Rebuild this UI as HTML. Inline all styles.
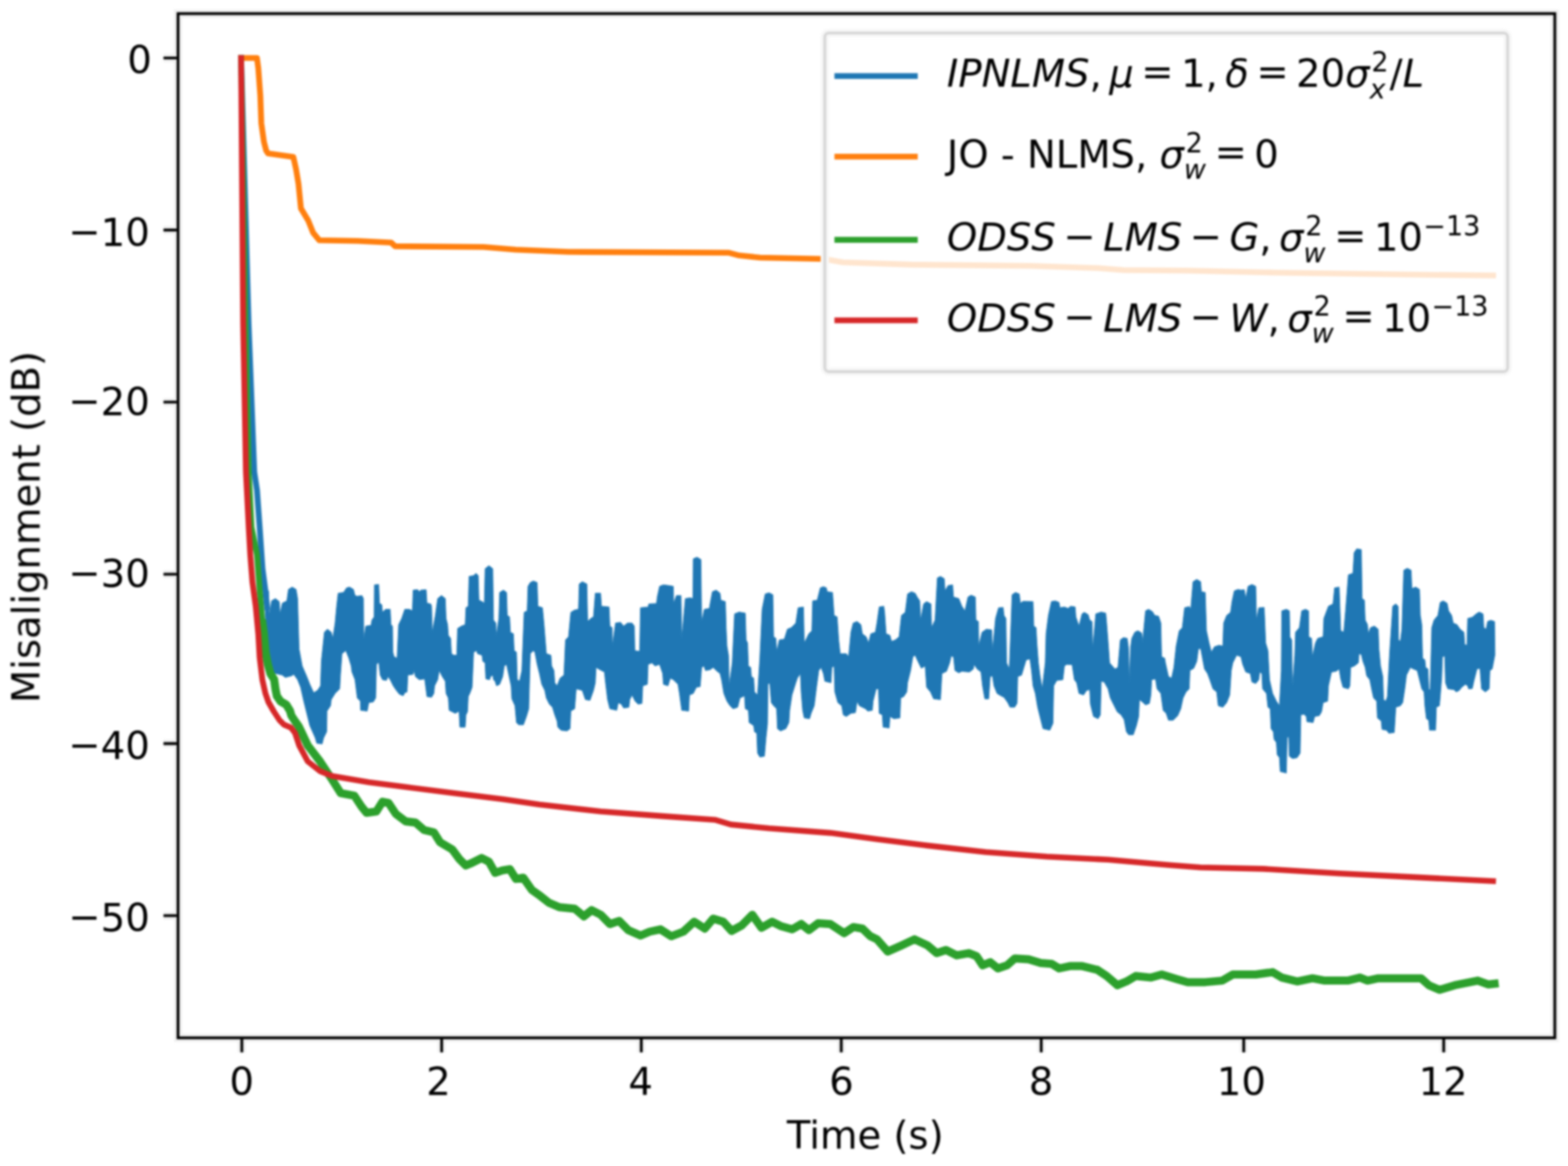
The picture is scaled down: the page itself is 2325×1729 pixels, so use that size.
<!DOCTYPE html>
<html lang="en"><head><meta charset="utf-8"><title>Misalignment (dB) vs Time (s)</title>
<style>html,body{margin:0;padding:0;background:#fff;}body{width:2325px;height:1729px;overflow:hidden;}svg{display:block;font-family:"DejaVu Sans","Liberation Sans",sans-serif;font-size:57.16px;fill:#000;}text{white-space:pre;}.i{font-style:italic;}.s{font-size:40.0px;}</style></head><body>
<svg xmlns="http://www.w3.org/2000/svg" width="2325" height="1729" viewBox="0 0 2325 1729">
<defs><filter id="soft" x="0" y="0" width="100%" height="100%" filterUnits="userSpaceOnUse" color-interpolation-filters="sRGB"><feGaussianBlur stdDeviation="1.60"/></filter></defs>
<rect width="2325" height="1729" fill="#fff"/>
<g filter="url(#soft)">
<g id="curves" fill="none" stroke-linejoin="round" stroke-linecap="square" stroke-width="8.60">
<polyline points="357.5,86.0 368.6,480.0 377.0,700.0 381.1,727.2 385.2,784.4 389.2,843.0 393.3,874.3 396.0,900.0" stroke="#1f77b4"/>
<polygon points="393.6,874.0 398.2,876.2 399.3,912.6 402.7,891.0 408.4,887.6 414.0,892.1 415.2,910.3 418.6,894.4 425.4,891.0 427.7,874.0 433.3,870.6 439.0,874.0 441.3,887.6 443.5,962.5 448.1,987.5 454.9,1003.3 459.4,1014.7 465.1,1027.2 470.8,1023.8 475.3,1017.0 476.5,980.6 481.0,937.5 485.5,933.0 491.2,937.5 493.5,946.6 496.9,923.9 499.2,898.9 501.4,879.7 509.4,878.5 513.9,871.7 518.4,870.6 524.1,874.0 526.4,883.1 529.8,884.2 536.6,883.1 538.9,887.6 539.3,948.9 542.3,928.4 550.2,927.3 551.4,919.4 554.8,914.8 555.2,867.2 561.6,866.7 562.7,894.4 566.1,896.7 567.2,908.0 571.8,903.5 578.6,903.5 579.7,926.2 582.0,928.4 582.5,967.0 584.3,973.8 588.8,976.1 591.1,926.2 595.6,917.1 600.2,903.5 607.0,903.5 611.5,905.8 612.6,875.1 619.4,874.4 621.7,877.4 624.0,875.1 631.9,874.4 633.1,894.4 638.7,895.5 639.9,898.9 641.0,937.5 645.5,912.6 649.0,887.6 654.6,883.1 660.3,887.6 661.4,917.1 663.7,926.2 664.8,942.1 668.2,946.6 669.4,969.3 672.8,971.6 677.3,971.6 678.5,931.9 684.1,928.4 689.8,926.2 690.9,901.2 694.3,898.9 695.5,854.7 702.3,853.5 705.7,850.1 709.1,853.5 710.2,889.9 714.8,892.1 718.2,894.4 719.3,843.3 725.0,838.8 730.7,843.3 731.8,919.4 735.2,923.9 735.7,944.3 739.7,917.1 740.9,878.5 746.5,875.1 751.1,878.5 752.2,912.6 755.6,914.8 756.8,937.5 761.3,939.8 762.4,964.8 765.8,967.0 767.0,1007.9 770.4,1010.2 773.8,994.3 777.2,908.0 781.7,905.8 782.9,869.4 786.3,863.8 790.8,861.5 796.5,863.8 797.6,898.9 804.4,901.2 806.7,926.2 810.1,969.3 816.9,971.6 818.0,987.5 821.4,994.3 822.6,1012.4 826.0,1017.0 830.5,1005.6 836.2,1001.1 838.5,948.9 843.0,944.3 846.4,908.0 852.1,904.6 857.8,903.5 858.9,866.0 863.4,862.6 870.2,866.0 871.4,921.6 875.9,917.1 880.0,914.8 882.7,879.7 890.6,879.7 891.8,898.9 903.1,900.1 904.3,928.4 907.7,930.7 908.1,958.0 912.7,923.9 920.1,922.8 924.7,928.4 930.4,923.9 937.2,923.9 940.6,928.4 941.3,964.8 948.5,965.9 949.7,901.2 961.0,900.1 962.1,895.5 973.5,894.9 974.6,885.3 978.0,869.4 983.7,867.2 991.6,868.3 998.4,869.4 998.9,894.4 1003.0,883.1 1009.8,883.1 1010.9,946.6 1016.2,887.6 1023.4,886.5 1027.5,887.6 1028.0,828.6 1033.6,826.3 1039.3,829.7 1040.4,922.8 1044.3,903.5 1051.8,902.3 1052.9,895.5 1056.3,877.4 1062.0,875.1 1067.7,879.7 1068.8,889.9 1075.6,892.1 1076.7,930.7 1077.9,958.0 1080.2,971.6 1081.3,1017.0 1085.8,982.9 1089.2,910.3 1096.0,907.6 1105.1,909.2 1106.3,948.9 1108.5,953.4 1109.7,987.5 1113.1,989.7 1114.2,1003.3 1117.6,1005.6 1118.7,1026.0 1123.3,1030.6 1126.7,976.1 1130.1,903.5 1134.6,880.8 1140.3,879.0 1146.0,881.9 1147.1,944.3 1150.5,946.6 1151.6,967.0 1155.5,948.9 1163.0,947.7 1167.5,933.0 1173.2,930.7 1180.0,923.9 1183.4,901.2 1191.4,900.1 1192.5,953.4 1199.3,939.8 1203.8,935.3 1205.0,891.0 1211.8,889.9 1216.3,871.7 1220.9,869.9 1225.4,871.7 1226.5,877.4 1234.5,878.5 1236.8,912.6 1241.3,914.8 1243.6,948.9 1245.8,969.3 1254.9,969.3 1258.3,973.8 1261.7,937.5 1265.1,923.9 1270.8,921.6 1276.5,926.2 1278.7,939.8 1284.4,944.3 1287.8,953.4 1291.2,939.8 1298.0,937.5 1300.3,923.9 1303.7,900.1 1310.5,898.9 1311.7,908.0 1313.9,939.8 1319.6,942.1 1321.9,951.1 1327.5,948.9 1333.2,944.3 1336.6,912.6 1342.3,908.0 1345.7,880.8 1351.4,877.4 1357.0,879.7 1360.0,885.3 1363.8,891.0 1365.0,919.4 1369.5,895.5 1374.0,892.1 1380.4,895.5 1381.3,930.7 1386.5,919.4 1389.9,857.0 1394.5,854.7 1400.1,858.1 1401.3,876.2 1405.8,868.3 1412.6,867.2 1413.8,885.3 1421.7,887.6 1426.2,898.9 1430.8,905.8 1435.3,885.3 1439.9,882.6 1446.2,885.3 1447.1,919.4 1450.8,921.6 1451.2,958.0 1456.2,937.5 1462.6,933.0 1470.5,934.1 1471.6,967.0 1476.2,917.1 1480.7,901.2 1487.5,900.8 1488.7,912.6 1491.6,917.1 1492.5,982.9 1496.6,992.0 1500.7,881.9 1505.7,878.5 1511.4,880.8 1512.9,894.4 1517.0,891.7 1531.8,892.1 1532.9,928.4 1536.3,930.7 1537.5,953.4 1539.7,982.9 1542.0,1001.1 1545.4,1021.5 1549.9,982.9 1551.1,939.8 1554.5,912.6 1559.0,892.1 1564.7,891.0 1570.4,893.3 1571.5,901.2 1578.3,900.1 1584.0,902.3 1587.4,898.9 1594.2,900.1 1595.3,914.8 1599.9,928.4 1604.4,910.3 1607.8,908.0 1613.5,911.4 1615.8,919.4 1619.2,921.6 1620.3,962.5 1624.8,910.3 1632.8,907.6 1639.6,909.2 1640.7,921.6 1643.0,951.1 1645.3,982.9 1653.2,992.0 1657.7,989.7 1661.2,948.9 1665.7,945.5 1671.4,946.6 1673.2,960.2 1674.8,1014.7 1676.4,960.2 1678.2,946.6 1682.7,937.5 1687.3,935.3 1692.9,938.7 1694.1,953.4 1698.6,905.8 1703.1,903.5 1708.8,906.9 1712.2,912.6 1717.9,913.7 1721.3,923.9 1722.4,973.8 1727.0,976.1 1728.1,982.9 1732.6,1003.3 1737.2,1005.6 1740.6,989.7 1744.0,958.0 1748.5,935.3 1753.1,930.7 1756.5,901.2 1763.3,899.4 1765.6,903.5 1769.0,862.6 1774.6,859.2 1780.3,862.6 1781.4,877.4 1787.1,878.5 1788.9,935.3 1792.8,953.4 1796.2,967.0 1800.7,959.1 1807.5,956.8 1813.2,958.0 1814.4,923.9 1818.9,912.6 1824.6,908.0 1826.8,892.1 1830.2,876.2 1835.9,874.0 1840.0,875.1 1845.0,874.4 1847.2,887.6 1850.6,869.4 1856.3,866.7 1862.0,869.4 1863.1,919.4 1866.5,901.2 1874.5,900.8 1875.6,926.2 1876.7,953.4 1880.1,964.8 1882.4,1007.9 1887.0,1028.3 1892.6,1039.7 1897.2,1046.5 1899.9,994.3 1900.6,905.8 1907.4,903.5 1911.9,905.8 1912.6,944.3 1915.3,948.9 1916.5,1021.5 1919.9,971.6 1921.0,937.5 1926.7,930.7 1930.1,905.8 1935.8,903.5 1940.3,905.8 1940.7,944.3 1944.8,946.6 1946.0,973.8 1950.5,953.4 1953.9,946.6 1961.9,944.3 1963.0,917.1 1969.8,898.9 1976.6,895.5 1978.9,871.7 1985.7,870.6 1988.0,935.3 1992.5,937.5 1995.2,905.8 1999.3,852.4 2006.1,850.1 2007.9,819.5 2011.8,813.8 2018.6,815.0 2019.7,887.6 2023.1,889.9 2024.3,919.4 2027.7,926.2 2028.8,939.8 2032.2,930.7 2037.9,928.4 2043.6,933.0 2044.7,962.5 2047.0,987.5 2050.4,1003.3 2051.5,1037.4 2054.9,1039.7 2057.2,1032.9 2060.6,967.0 2065.1,898.9 2069.7,895.5 2073.1,898.9 2073.7,948.9 2076.5,951.1 2078.7,933.0 2081.5,845.6 2086.7,842.7 2092.4,845.6 2093.5,872.8 2099.2,870.6 2104.8,874.0 2106.0,912.6 2108.2,926.2 2109.4,976.1 2112.8,978.4 2113.9,989.7 2117.3,992.0 2118.5,1021.5 2120.7,1023.8 2123.0,930.7 2126.4,919.4 2132.1,912.6 2135.5,893.3 2140.0,891.0 2145.7,894.4 2148.0,905.8 2152.5,912.6 2154.8,923.9 2160.4,926.2 2165.0,933.0 2170.7,937.5 2171.8,955.7 2175.2,956.8 2176.3,917.1 2183.1,915.3 2188.8,910.3 2193.4,907.6 2199.0,910.3 2200.2,930.7 2203.6,933.0 2205.8,921.6 2210.4,919.8 2216.1,921.6 2216.7,971.6 2216.5,971.6 2212.6,992.0 2209.2,994.3 2208.1,1021.5 2202.4,1026.0 2196.8,1021.5 2194.5,990.9 2190.0,992.0 2185.4,1010.2 2183.1,1021.0 2177.5,1021.5 2176.3,1017.0 2172.9,1014.7 2167.3,1019.2 2163.8,1023.8 2159.3,1026.0 2155.9,1022.6 2146.8,1021.5 2143.4,1012.4 2142.3,972.7 2138.9,973.8 2137.7,1005.6 2135.5,1032.9 2134.3,1046.5 2129.8,1048.7 2128.7,1082.8 2119.6,1082.8 2118.5,1068.0 2115.1,1065.8 2112.8,1046.5 2111.6,1026.0 2108.2,1021.5 2104.8,1007.9 2101.4,994.3 2095.8,992.0 2091.2,989.7 2085.5,1001.1 2083.3,1019.2 2079.9,1041.9 2076.5,1046.5 2069.7,1048.7 2067.4,1086.2 2059.4,1087.3 2056.0,1082.8 2049.2,1081.6 2048.1,1069.2 2042.4,1064.6 2041.3,1039.7 2036.7,1035.1 2033.3,1019.2 2031.1,1007.9 2026.5,1002.2 2024.3,989.7 2020.9,980.6 2018.6,970.4 2015.2,969.3 2014.1,982.9 2008.4,987.5 2002.7,989.7 2001.6,1017.0 1999.3,1021.5 1991.4,1019.2 1988.0,1006.7 1985.7,992.0 1981.1,995.4 1974.3,996.5 1969.8,1017.0 1968.7,1039.7 1961.9,1041.9 1959.6,1055.5 1956.2,1061.2 1949.4,1062.4 1947.1,1071.4 1938.0,1070.3 1936.9,1062.4 1933.5,1059.0 1928.9,1060.1 1927.8,1116.8 1923.3,1123.6 1916.5,1124.8 1911.9,1121.4 1910.8,1091.9 1908.5,1094.1 1907.4,1146.3 1898.3,1144.1 1897.2,1123.6 1893.8,1119.1 1892.6,1100.9 1889.2,1096.4 1888.1,1085.1 1884.7,1080.5 1883.5,1051.0 1880.1,1048.7 1877.9,1028.3 1872.2,1021.5 1871.1,998.8 1867.7,996.5 1866.5,1007.9 1862.0,1013.6 1856.3,1011.3 1854.0,998.8 1847.2,996.5 1842.7,985.2 1840.0,973.8 1833.6,971.6 1828.0,982.9 1825.7,994.3 1823.4,1030.6 1818.9,1041.9 1813.2,1048.7 1806.4,1046.5 1804.1,1026.0 1798.5,1021.5 1793.9,1007.9 1790.5,998.8 1786.0,992.0 1782.6,973.8 1780.3,961.4 1776.9,962.5 1774.6,980.6 1770.1,990.9 1764.4,994.3 1763.3,1021.5 1758.7,1026.0 1754.2,1035.1 1750.8,1051.0 1746.3,1061.2 1739.5,1068.0 1732.6,1068.0 1729.2,1057.8 1724.7,1053.3 1721.3,1028.3 1715.6,1021.5 1713.4,1006.7 1707.7,1007.9 1706.5,1030.6 1704.3,1043.1 1698.6,1045.3 1695.2,1041.9 1689.5,1037.4 1688.4,1062.4 1685.0,1076.0 1680.4,1089.6 1673.6,1089.6 1670.2,1085.1 1666.8,1066.9 1662.3,1060.1 1656.6,1055.5 1652.1,1046.5 1646.4,1035.1 1643.0,1021.5 1637.3,1011.3 1632.8,1010.2 1631.6,1060.1 1628.2,1065.8 1621.4,1062.4 1616.9,1044.2 1615.8,1022.6 1611.2,1023.8 1606.7,1030.6 1599.9,1028.3 1596.5,1012.4 1593.1,1007.9 1589.7,985.6 1581.7,985.2 1578.3,987.5 1576.0,1007.9 1567.0,1009.0 1562.4,1017.0 1561.3,1072.6 1556.7,1082.8 1546.5,1080.5 1542.0,1062.4 1538.6,1048.7 1535.2,1028.3 1531.8,1017.0 1529.5,994.3 1527.2,977.2 1521.6,978.4 1518.2,989.7 1514.8,1001.1 1509.1,1003.3 1508.0,1043.1 1504.5,1048.7 1497.7,1048.7 1494.3,1041.9 1488.7,1034.0 1484.1,1031.7 1478.4,1028.3 1473.9,1017.0 1471.6,1002.2 1468.2,1003.3 1466.0,1036.3 1460.3,1036.3 1456.9,1017.0 1454.6,996.5 1448.9,992.0 1444.4,985.2 1443.3,992.0 1437.6,996.5 1426.2,995.4 1421.7,997.7 1416.0,994.3 1413.8,973.8 1410.4,972.7 1408.1,982.9 1403.5,995.4 1396.7,998.8 1394.5,1037.4 1384.3,1036.3 1379.7,1026.0 1374.0,1019.2 1371.8,987.5 1366.1,990.9 1360.0,978.4 1357.0,971.6 1353.6,973.8 1350.2,994.3 1345.7,1012.4 1344.6,1026.0 1340.0,1032.9 1335.5,1035.1 1334.4,1064.6 1325.3,1065.8 1319.6,1062.4 1318.5,1079.4 1309.4,1078.2 1308.3,1060.1 1303.7,1057.8 1302.6,1021.5 1299.2,1021.5 1294.6,1039.7 1293.5,1053.3 1286.7,1054.4 1283.3,1051.0 1274.2,1046.5 1270.8,1039.7 1268.5,1056.7 1261.7,1057.8 1254.9,1062.4 1250.4,1060.1 1248.1,1046.5 1242.4,1041.9 1237.9,1026.0 1236.8,987.5 1233.4,989.7 1232.2,1012.4 1223.1,1010.2 1220.9,998.8 1217.5,989.7 1214.1,994.3 1210.7,1019.2 1207.3,1046.5 1202.7,1057.8 1200.4,1065.8 1192.5,1064.6 1190.2,1053.3 1188.0,1026.0 1186.8,998.8 1182.3,1005.6 1180.0,1012.4 1174.3,1030.6 1170.9,1053.3 1169.8,1071.4 1165.3,1080.5 1157.3,1083.9 1152.8,1080.5 1151.6,1051.0 1147.1,1046.5 1143.7,1041.9 1141.4,1012.4 1138.7,1014.7 1138.0,1073.7 1135.8,1094.1 1133.5,1121.4 1126.7,1122.5 1123.3,1116.8 1122.1,1087.3 1118.7,1085.1 1117.6,1076.0 1110.8,1071.4 1109.7,1053.3 1105.1,1051.0 1104.0,1031.7 1097.2,1035.1 1093.8,1048.7 1087.0,1051.0 1082.4,1046.5 1077.9,1039.7 1073.3,1028.3 1069.9,1007.9 1067.7,998.8 1062.0,994.3 1057.5,989.7 1052.9,993.1 1046.1,994.3 1043.8,987.5 1040.4,989.7 1038.2,1018.1 1032.5,1019.2 1028.0,1028.3 1022.3,1030.6 1021.1,1054.4 1010.9,1053.3 1007.5,1028.3 1005.3,1014.7 998.4,1007.9 993.9,1005.6 990.5,1017.0 983.7,1014.7 982.6,998.8 978.0,985.2 971.2,987.5 966.7,982.9 961.0,985.2 959.9,1014.7 953.1,1017.0 951.9,1043.1 946.2,1044.2 941.7,1039.7 937.2,1030.6 933.8,1037.4 932.6,1048.7 924.7,1049.9 921.3,1044.2 916.7,1041.9 914.5,1053.3 904.3,1051.0 900.9,1037.4 897.4,1007.9 896.3,996.5 891.8,994.3 883.8,989.7 882.7,1012.4 880.0,1023.8 874.8,1038.5 868.0,1037.4 863.4,1023.8 858.9,1022.6 854.4,1021.5 852.1,1051.0 846.4,1054.4 845.3,1080.5 840.7,1083.9 831.7,1082.8 827.1,1078.2 826.0,1069.2 822.6,1060.1 819.2,1048.7 814.6,1044.2 810.1,1035.1 807.8,1023.8 803.3,1014.7 799.9,998.8 796.5,985.2 793.1,967.0 790.8,964.8 786.3,969.3 784.0,1051.0 780.6,1062.4 776.1,1074.8 769.2,1074.8 765.8,1071.4 763.6,1046.5 759.0,1036.3 757.9,1017.0 754.5,1001.1 751.1,985.2 747.7,987.5 745.4,1003.3 740.9,1014.7 736.3,1017.0 734.1,1010.2 731.8,1007.9 730.7,1001.1 727.3,1003.3 726.1,1007.9 720.4,1006.7 719.3,982.9 715.9,980.6 714.8,971.6 708.0,969.3 706.8,964.8 702.3,967.0 700.0,1019.2 696.6,1028.3 694.3,1032.9 693.2,1055.5 690.9,1060.1 689.8,1078.2 681.9,1078.2 680.7,1054.4 675.1,1057.8 670.5,1055.5 666.0,1053.3 664.8,1035.1 661.4,1028.3 660.3,1010.2 655.8,1003.3 651.2,994.3 649.0,1007.9 644.4,1017.0 643.3,1028.3 639.9,1034.0 633.1,1032.9 629.7,1006.7 621.7,1007.9 616.0,1003.3 613.8,993.1 612.6,999.9 604.7,1001.1 603.6,1026.0 600.2,1027.2 597.9,1031.7 592.2,1029.4 587.7,1023.8 583.1,1017.0 578.6,1007.9 575.2,1003.3 572.9,1009.0 567.2,1007.9 563.8,1001.1 561.6,981.8 558.2,985.2 557.0,1035.1 553.6,1040.8 546.8,1041.9 544.5,1054.4 534.8,1053.3 534.3,1039.7 529.8,1035.1 526.4,1007.9 521.9,996.5 520.7,987.5 517.3,976.1 512.8,964.8 507.1,969.3 504.8,1001.1 503.7,1021.5 496.9,1028.3 491.2,1037.4 490.1,1046.5 484.9,1054.4 484.4,1085.1 479.9,1094.1 477.6,1103.2 469.7,1102.1 467.4,1094.1 459.4,1076.0 454.9,1057.8 450.4,1039.7 445.8,1019.2 441.3,1007.9 435.6,999.9 432.2,1002.2 423.1,1004.5 418.6,1001.1 405.0,997.7 400.0,985.0 395.9,950.0 392.9,900.1" fill="#1f77b4" stroke="#1f77b4" stroke-width="1"/>
<polyline points="357.5,86.0 381.0,86.0 383.0,101.0 386.0,142.0 387.5,183.0 391.3,210.0 394.7,223.4 397.5,227.5 435.0,232.8 439.0,251.0 442.6,272.6 446.2,309.0 457.0,327.0 464.4,345.3 473.4,356.2 530.0,357.3 580.0,359.8 586.0,365.2 717.0,366.2 765.0,370.3 843.0,373.5 1080.0,374.7 1096.0,378.8 1127.0,382.0 1222.0,384.0 1250.0,389.0 1351.0,392.4 1528.0,394.2 1628.0,397.5 1666.0,400.5 1760.0,401.2 1891.0,404.2 2118.0,407.5 2214.0,408.5" stroke="#ff7f0e"/>
<polyline points="357.5,86.0 364.0,480.0 368.8,700.0 372.9,781.7 381.1,822.6 385.2,877.0 389.2,924.7" stroke="#2ca02c"/>
<polyline points="389.2,924.7 391.3,940.0 393.6,967.0 397.2,985.4 401.0,999.0 406.5,1007.5 408.5,1022.0 410.5,1032.0 416.0,1040.0 424.5,1045.0 430.0,1054.0 432.0,1061.0 436.5,1068.0 442.6,1076.5 447.0,1085.5 456.3,1105.4 474.5,1129.0 492.6,1156.2 505.3,1176.2 525.3,1179.8 536.2,1196.2 543.5,1205.3 558.0,1203.4 567.1,1188.9 576.2,1190.7 587.0,1207.0 601.6,1218.0 616.1,1219.8 628.8,1230.7 643.3,1234.3 652.4,1248.8 670.6,1259.7 681.5,1274.3 690.5,1283.3 699.6,1279.7 714.1,1272.4 725.0,1277.9 734.1,1294.2 745.0,1290.6 755.9,1288.8 765.0,1303.3 775.9,1301.5 788.6,1319.6 801.3,1328.7 813.6,1338.4 829.5,1345.2 852.2,1347.5 865.8,1358.8 877.2,1349.7 890.8,1356.5 904.4,1370.2 918.0,1365.6 931.6,1379.2 949.8,1387.2 963.4,1381.5 979.3,1378.1 995.2,1388.3 1013.3,1381.5 1029.2,1366.8 1045.1,1377.0 1057.6,1362.2 1072.4,1366.8 1084.8,1380.4 1099.6,1372.4 1115.5,1356.5 1129.1,1375.8 1145.0,1366.8 1158.6,1373.6 1174.5,1378.1 1188.1,1370.2 1199.5,1379.2 1213.1,1369.0 1231.2,1370.2 1251.7,1383.8 1265.3,1374.7 1278.9,1377.0 1290.2,1388.0 1300.4,1392.9 1316.3,1411.0 1336.7,1401.9 1356.0,1392.9 1375.3,1401.9 1389.0,1413.3 1402.6,1408.7 1418.5,1416.7 1436.6,1413.3 1448.0,1417.8 1457.0,1431.4 1468.4,1426.9 1479.7,1436.0 1493.3,1431.4 1504.7,1421.2 1525.1,1422.4 1543.3,1428.0 1559.2,1429.2 1570.5,1436.0 1586.4,1432.6 1604.6,1432.6 1627.3,1438.2 1640.9,1447.3 1656.8,1460.9 1670.4,1455.3 1684.0,1447.3 1706.7,1449.6 1722.6,1445.1 1745.3,1451.9 1761.2,1456.4 1787.2,1456.4 1812.2,1454.1 1828.1,1445.0 1862.1,1445.0 1887.1,1441.6 1900.7,1449.6 1923.4,1455.3 1946.1,1450.7 1964.3,1454.1 1998.3,1454.1 2016.5,1449.6 2027.8,1454.1 2043.7,1450.7 2107.3,1450.7 2118.6,1460.9 2134.5,1467.7 2157.2,1460.9 2191.2,1454.1 2207.1,1459.8 2216.2,1458.7" stroke="#2ca02c" stroke-width="12"/>
<polyline points="357.5,86.0 360.6,480.0 364.7,700.0 368.8,781.7 371.1,822.6 374.3,863.4 379.3,900.0 383.0,940.0 385.0,975.0 389.0,1008.0 393.5,1028.0 398.0,1041.0 406.0,1055.0 414.5,1068.0 421.0,1074.5 431.5,1079.0 437.5,1087.0 443.6,1105.4 456.3,1129.0 474.5,1143.5 492.6,1150.8 547.1,1159.9 601.6,1167.1 674.2,1176.2 746.8,1185.3 800.0,1193.1 890.8,1203.3 981.6,1210.1 1061.0,1215.8 1083.7,1222.6 1140.4,1228.3 1231.2,1235.1 1299.3,1244.2 1370.8,1253.3 1461.6,1263.5 1552.4,1270.3 1643.1,1274.8 1733.9,1282.8 1780.0,1286.2 1873.5,1288.4 1987.0,1295.3 2100.4,1300.9 2213.9,1306.6" stroke="#d62728"/>
</g>
<g id="legend">
<rect x="1223.0" y="49.0" width="1012.5" height="502.1" rx="6" ry="6" fill="#fff" fill-opacity="0.8" stroke="#f7f7f7" stroke-width="12.35"/>
<rect x="1223.0" y="49.0" width="1012.5" height="502.1" rx="6" ry="6" fill="none" stroke="#d6d6d6" stroke-width="4.12"/>
<path d="M1237.3 112.8 H1360.8" stroke="#1f77b4" stroke-width="8.6" fill="none"/>
<path d="M1237.3 232.2 H1360.8" stroke="#ff7f0e" stroke-width="8.6" fill="none"/>
<path d="M1237.3 355.6 H1360.8" stroke="#2ca02c" stroke-width="8.6" fill="none"/>
<path d="M1237.3 475.0 H1360.8" stroke="#d62728" stroke-width="8.6" fill="none"/>
<text><tspan class="i" x="1404.1 1421.0 1455.4 1498.1 1529.9 1579.2" y="129.3">IPNLMS</tspan><tspan x="1615.5 1633.6" y="129.3">, </tspan><tspan class="i" x="1644.7" y="129.3">μ</tspan><tspan x="1686.2 1692.2 1740.1" y="125.8"> = </tspan><tspan x="1751.2 1787.5 1805.7" y="129.3">1, </tspan><tspan class="i" x="1816.8" y="129.3">δ</tspan><tspan x="1856.9 1862.9 1910.7" y="125.8"> = </tspan><tspan x="1921.8 1958.2" y="129.3">20</tspan><tspan class="i" x="1994.5" y="129.3">σ</tspan><tspan class="s" x="2033.4" y="106.2">2</tspan><tspan class="i s" x="2030.7" y="145.7">x</tspan><tspan x="2060.5" y="129.3">/</tspan><tspan class="i" x="2079.7" y="129.3">L</tspan></text>
<text><tspan x="1404.1 1421.0 1465.9 1484.1 1504.7 1522.8 1565.6 1597.4 1646.6 1682.9 1701.0" y="248.6">JO - NLMS, </tspan><tspan class="i" x="1719.2" y="248.6">σ</tspan><tspan class="s" x="1758.1" y="225.6">2</tspan><tspan class="i s" x="1755.4" y="265.1">w</tspan><tspan x="1794.9 1800.9 1848.7" y="245.1"> = </tspan><tspan x="1859.8" y="248.6">0</tspan></text>
<text><tspan class="i" x="1404.1 1449.1 1493.1 1529.3" y="372.1">ODSS</tspan><tspan x="1570.7 1576.7 1624.5" y="370.1"> − </tspan><tspan class="i" x="1635.7 1667.5 1716.7" y="372.1">LMS</tspan><tspan x="1758.1 1764.1 1812.0" y="370.1"> − </tspan><tspan class="i" x="1823.1" y="372.1">G</tspan><tspan x="1867.3 1885.5" y="372.1">, </tspan><tspan class="i" x="1896.6" y="372.1">σ</tspan><tspan class="s" x="1935.5" y="349.1">2</tspan><tspan class="i s" x="1932.8" y="388.6">w</tspan><tspan x="1972.3 1978.3 2026.1" y="368.6"> = </tspan><tspan x="2037.3 2073.6" y="372.1">10</tspan><tspan class="s" x="2110.5 2144.0 2169.4" y="349.1">−13</tspan></text>
<text><tspan class="i" x="1404.1 1449.1 1493.1 1529.3" y="491.5">ODSS</tspan><tspan x="1570.7 1576.7 1624.5" y="489.4"> − </tspan><tspan class="i" x="1635.7 1667.5 1716.7" y="491.5">LMS</tspan><tspan x="1758.1 1764.1 1812.0" y="489.4"> − </tspan><tspan class="i" x="1823.1" y="491.5">W</tspan><tspan x="1879.6 1897.7" y="491.5">, </tspan><tspan class="i" x="1908.8" y="491.5">σ</tspan><tspan class="s" x="1947.7" y="468.4">2</tspan><tspan class="i s" x="1945.0" y="507.9">w</tspan><tspan x="1984.5 1990.5 2038.3" y="488.0"> = </tspan><tspan x="2049.5 2085.8" y="491.5">10</tspan><tspan class="s" x="2122.7 2156.2 2181.6" y="468.4">−13</tspan></text>
</g>
<g fill="none" stroke="#f1f1f1" stroke-width="12.26"><rect x="264.00" y="20.20" width="2041.45" height="1518.75"/><path d="M358.6 1541.0 v19.5 M654.9 1541.0 v19.5 M950.9 1541.0 v19.5 M1247.4 1541.0 v19.5 M1543.9 1541.0 v19.5 M1844.2 1541.0 v19.5 M2140.7 1541.0 v19.5 M261.9 86.0 h-19.5 M261.9 341.1 h-19.5 M261.9 596.3 h-19.5 M261.9 851.5 h-19.5 M261.9 1102.6 h-19.5 M261.9 1357.8 h-19.5"/></g>
<rect x="264.00" y="20.20" width="2041.45" height="1518.75" fill="none" stroke="#000" stroke-width="4.12"/>
<path d="M358.6 1541.0 v19.5 M654.9 1541.0 v19.5 M950.9 1541.0 v19.5 M1247.4 1541.0 v19.5 M1543.9 1541.0 v19.5 M1844.2 1541.0 v19.5 M2140.7 1541.0 v19.5 M261.9 86.0 h-19.5 M261.9 341.1 h-19.5 M261.9 596.3 h-19.5 M261.9 851.5 h-19.5 M261.9 1102.6 h-19.5 M261.9 1357.8 h-19.5" stroke="#000" stroke-width="4.12" fill="none"/>
<g text-anchor="middle">
<text x="358.4" y="1623.6">0</text>
<text x="650.2" y="1623.6">2</text>
<text x="950.0" y="1623.6">4</text>
<text x="1247.6" y="1623.6">6</text>
<text x="1543.8" y="1623.6">8</text>
<text x="1840.7" y="1623.6">10</text>
<text x="2139.8" y="1623.6">12</text>
</g><g text-anchor="end">
<text x="225.0" y="108.6">0</text>
<text x="222.0" y="364.5"><tspan dy="-1.8">−</tspan><tspan dy="1.8">10</tspan></text>
<text x="222.0" y="615.8"><tspan dy="-1.8">−</tspan><tspan dy="1.8">20</tspan></text>
<text x="222.0" y="870.7"><tspan dy="-1.8">−</tspan><tspan dy="1.8">30</tspan></text>
<text x="222.0" y="1125.6"><tspan dy="-1.8">−</tspan><tspan dy="1.8">40</tspan></text>
<text x="222.0" y="1380.8"><tspan dy="-1.8">−</tspan><tspan dy="1.8">50</tspan></text>
</g>
<text class="ax" x="1283.0" y="1703.4" text-anchor="middle">Time (s)</text>
<text class="ax" transform="translate(58.6,781.5) rotate(-90)" text-anchor="middle">Misalignment (dB)</text>
</g>
</svg></body></html>
